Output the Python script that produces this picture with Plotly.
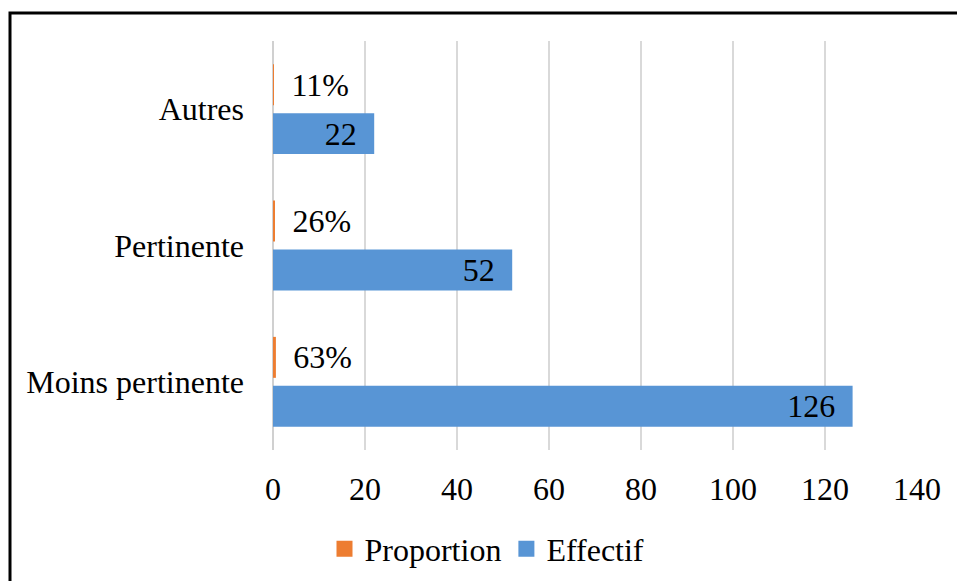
import plotly.graph_objects as go

categories = ["Moins pertinente", "Pertinente", "Autres"]
effectif = [126, 52, 22]
proportion = [0.63, 0.26, 0.11]
x_ticks = [0, 20, 40, 60, 80, 100, 120, 140]

FONT = "Liberation Serif"
FS = 32
NB = "\u00a0"
TH = "\u2009"
BLUE = "#5895d5"
ORANGE = "#ed7d31"

fig = go.Figure()

fig.add_trace(go.Bar(
    y=categories, x=effectif, orientation="h", name="Effectif",
    marker=dict(color=BLUE, line=dict(width=0)),
    text=[f"{v}{NB}{TH}" for v in effectif],
    textposition="inside", insidetextanchor="end", constraintext="none",
    textfont=dict(family=FONT, size=FS, color="black"),
    showlegend=False,
))
fig.add_trace(go.Bar(
    y=categories, x=proportion, orientation="h", name="Proportion",
    marker=dict(color=ORANGE, line=dict(width=0)),
    text=[f"{NB}{TH}{round(p*100)}%" for p in proportion],
    textposition="outside", cliponaxis=False,
    textfont=dict(family=FONT, size=FS, color="black"),
    showlegend=False,
))
# legend entries with square swatches
fig.add_trace(go.Scatter(x=[None], y=[None], mode="markers", name="Proportion",
                         marker=dict(symbol="square", size=17, color=ORANGE), legendrank=1))
fig.add_trace(go.Scatter(x=[None], y=[None], mode="markers", name="Effectif",
                         marker=dict(symbol="square", size=17, color=BLUE), legendrank=2))

fig.update_layout(
    width=957, height=581,
    margin=dict(l=273, r=40, t=41, b=131, autoexpand=False),
    paper_bgcolor="white", plot_bgcolor="white",
    barmode="group", bargap=0.282, bargroupgap=0.163,
    font=dict(family=FONT, size=FS, color="black"),
    showlegend=True,
    legend=dict(orientation="h", xref="container", x=(487 / 957), xanchor="center",
                yref="container", y=(581 - 549) / 581, yanchor="middle",
                font=dict(family=FONT, size=FS, color="black"), itemwidth=30,
                traceorder="normal"),
    xaxis=dict(range=[0, 140], tickvals=x_ticks, showgrid=True, gridcolor="#d9d9d9",
               gridwidth=2, zeroline=True, zerolinecolor="#d0d0d0", zerolinewidth=2,
               showline=False, ticks="", ticklabelstandoff=17, automargin=False,
               tickfont=dict(family=FONT, size=FS, color="black")),
    yaxis=dict(showgrid=False, showline=False, ticks="", ticklabelstandoff=28, automargin=False,
               tickfont=dict(family=FONT, size=FS, color="black")),
    shapes=[dict(type="rect", xref="paper", yref="paper",
                 x0=(10 - 273) / 644, x1=(975 - 273) / 644,
                 y0=(450 - 600) / 409, y1=(450 - 13) / 409,
                 line=dict(color="black", width=3), fillcolor="rgba(0,0,0,0)", layer="above")],
)

fig.write_html("out.html")
